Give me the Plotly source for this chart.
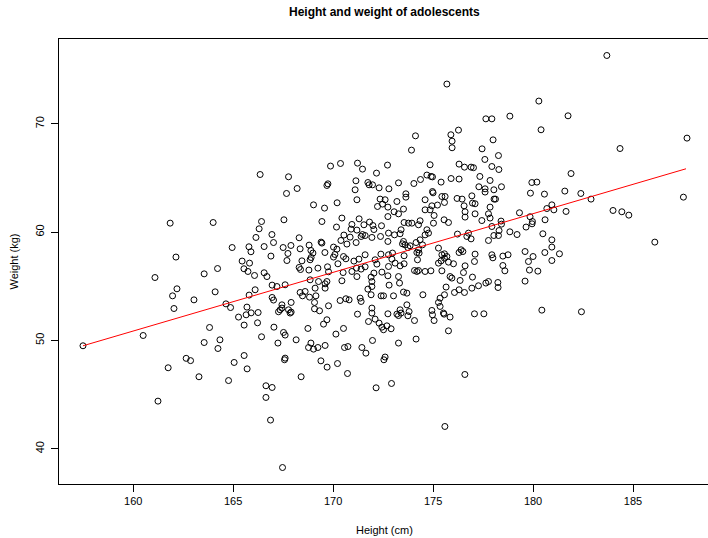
import plotly.graph_objects as go

# Heights (cm) and weights (kg)
height_cm = [
    166.35, 175.69, 177.64, 177.94, 176.27, 175.89, 174.12, 175.95, 175.95, 173.92,
    177.45, 177.59, 177.94, 169.87, 170.37, 171.22, 171.47, 172.72, 172.17, 174.85,
    176.30, 176.57, 176.90, 177.02, 167.77, 168.20, 167.67, 169.69, 169.74, 171.14,
    171.10, 171.74, 171.80, 171.97, 172.30, 172.79, 173.27, 174.04, 174.37, 174.69,
    174.90, 174.97, 175.40, 175.90, 176.30, 177.34, 177.85, 177.29, 177.60, 177.60,
    174.97, 175.00, 173.64, 173.64, 175.44, 175.60, 176.20, 176.45, 176.94, 172.35,
    172.60, 171.19, 174.60,
    183.69, 180.29, 178.84, 181.75, 180.40, 178.00, 187.70, 184.35, 178.27, 178.29,
    181.90, 179.94, 180.19, 178.42, 178.04, 179.87, 180.57, 181.59, 182.39, 182.90,
    187.52, 178.05, 178.12,
    177.85, 177.85, 177.94, 179.32, 179.85, 180.60, 180.69, 180.94, 181.04, 181.65,
    184.00, 184.44, 184.79, 178.40, 178.42, 178.30, 179.97, 179.95, 179.65, 178.84,
    179.20, 178.04, 178.27, 180.49, 180.94, 180.94, 180.59, 181.32, 179.60, 186.09,
    177.94, 177.99, 178.49, 178.75, 180.00, 179.77, 180.94, 178.49, 178.59, 179.82,
    180.24, 178.24, 178.25, 179.60, 180.44, 182.42,
    161.85, 164.00, 166.42, 166.30, 166.14, 166.94, 167.02, 166.55, 164.95, 165.79,
    165.89, 166.89, 162.14, 165.45, 165.82, 165.54, 165.74, 164.22, 163.55, 166.55,
    166.69, 166.07, 161.09, 166.95, 166.10, 162.19, 161.97, 164.10, 165.80, 166.95,
    167.02, 163.04, 164.64, 164.87, 162.04, 165.69, 165.90, 166.25, 165.65, 165.27,
    166.22, 165.55, 167.04, 163.82, 160.50, 157.49, 166.42, 164.34, 163.55, 164.24,
    165.55, 162.65, 162.87,
    161.75, 163.29, 161.24, 164.77, 165.05, 165.70, 166.64, 166.95, 166.64, 166.87,
    167.57, 169.39, 169.70, 170.22, 168.40, 170.72, 172.15, 172.92, 176.59, 175.59,
    167.47, 172.54,
    169.02, 169.57, 170.20, 172.22, 172.47, 167.54, 169.44, 170.44, 171.30, 170.17,
    170.94, 170.90, 171.54, 171.82, 171.99, 172.04, 172.42, 171.47, 171.60, 171.40,
    171.19, 170.54, 170.85, 172.37, 171.94, 168.30, 167.89, 167.50, 168.35, 168.80,
    169.40, 169.44, 170.39, 170.69, 171.15, 170.02, 170.19, 168.89, 168.99, 169.59,
    167.74, 170.09, 170.02, 170.52, 170.64, 171.60, 172.39, 167.69, 168.44, 168.85,
    168.90, 170.24, 171.04, 171.29, 172.10, 172.19, 168.30, 168.37, 168.79, 169.24,
    169.72, 169.77, 170.50, 170.94, 171.17, 171.40, 171.60, 171.90, 172.04, 172.44,
    171.19,
    172.74, 172.74, 173.19, 173.05, 173.27, 173.52, 174.94, 175.22, 174.60, 174.85,
    175.57, 175.05, 176.55, 176.60, 176.60, 176.97, 177.10, 177.10, 177.44, 177.77,
    175.55, 175.77, 173.55, 173.77, 173.94, 174.27, 174.35, 175.02, 174.69, 174.77,
    174.60, 172.77, 173.07, 173.35, 173.40, 172.74, 173.52, 173.47, 173.60, 173.85,
    173.74, 174.15, 174.35, 174.47, 176.22, 176.77, 176.69, 176.90, 177.77, 175.27,
    174.27, 174.19, 174.30, 176.40, 176.49, 176.30, 172.77, 172.97, 172.94, 173.55,
    174.22, 175.44, 175.57, 175.69, 175.57, 175.27, 175.40, 175.77, 176.02, 177.10,
    177.07, 176.60, 173.10, 173.35, 173.55, 172.77, 172.74, 173.27, 174.07, 174.19,
    174.27, 174.60, 174.89, 175.44, 175.85, 175.94, 176.52, 176.97,
    167.19, 167.60, 168.85, 169.27, 169.60, 169.69, 170.44, 168.35, 168.60, 168.47,
    168.82, 169.10, 169.60, 169.14, 167.44, 167.90, 169.07, 169.77, 167.35, 167.27,
    167.44, 167.77, 167.85, 167.90, 169.07, 169.32, 170.35, 170.64, 170.80, 171.35,
    171.40, 171.74, 171.94, 171.94, 171.90, 172.40, 172.52, 171.22, 171.94, 171.94,
    171.77, 172.10, 172.30, 172.44, 172.52, 169.69, 169.52, 168.74, 170.52, 170.14,
    167.52, 167.60, 168.15, 167.24, 171.97, 168.89, 168.77, 169.02, 169.24, 169.60,
    170.57, 170.74, 171.44, 171.64, 167.60,
    172.80, 173.32, 173.52, 173.69, 173.02, 174.49, 175.65, 175.57, 176.07, 176.30,
    176.57, 176.94, 177.27, 177.64, 177.77, 176.35, 175.35, 175.27, 175.35, 173.69,
    173.35, 173.19, 173.27, 173.40, 173.80, 172.74, 173.74, 174.07, 174.94, 174.97,
    175.05, 175.52, 175.55, 175.85, 177.07, 177.54, 172.69, 172.90, 175.77, 173.27,
    174.15, 172.60,
]

weight_kg = [
    65.32, 73.67, 70.46, 70.46, 69.42, 68.99, 68.89, 68.40, 67.79, 67.57,
    67.69, 66.71, 66.06, 66.10, 66.34, 66.37, 65.82, 66.19, 65.45, 66.22,
    66.28, 66.00, 66.00, 65.95, 65.11, 64.03, 63.57, 64.31, 64.46, 64.74,
    63.91, 64.58, 64.37, 64.37, 64.09, 64.00, 64.55, 64.49, 64.86, 65.27,
    65.14, 65.10, 64.62, 64.95, 64.90, 65.14, 64.77, 64.19, 64.00, 63.70,
    63.75, 63.63, 63.54, 63.23, 63.29, 63.29, 63.11, 63.05, 63.35, 63.05,
    62.99, 62.99, 62.99,
    76.31, 72.10, 70.71, 70.74, 69.45, 68.52, 68.68, 67.72, 67.07, 65.78,
    65.41, 64.58, 64.62, 64.19, 63.91, 63.60, 63.51, 63.79, 63.57, 63.05,
    63.23, 63.05, 63.05,
    62.31, 61.30, 60.52, 61.79, 61.42, 61.14, 62.18, 62.52, 62.06, 61.91,
    62.00, 61.88, 61.57, 61.02, 60.74, 60.15, 60.98, 60.77, 60.47, 60.03,
    59.78, 59.69, 59.69, 59.85, 59.29, 58.62, 58.12, 58.00, 58.21, 59.08,
    57.91, 57.63, 57.79, 57.91, 57.75, 57.29, 57.38, 56.92, 56.43, 56.50,
    56.40, 55.35, 54.89, 55.48, 52.80, 52.65,
    60.83, 60.89, 60.98, 60.31, 59.51, 59.78, 59.04, 58.67, 58.58, 58.65,
    58.19, 57.79, 57.70, 57.33, 57.14, 56.62, 56.37, 56.64, 56.15, 56.25,
    55.90, 56.00, 55.81, 55.11, 54.68, 54.77, 54.12, 54.49, 54.19, 53.97,
    53.73, 53.75, 53.38, 53.04, 52.95, 53.08, 52.55, 52.58, 52.37, 52.16,
    51.63, 51.42, 51.23, 51.20, 50.46, 49.51, 50.34, 50.06, 49.81, 49.26,
    48.61, 48.35, 48.14,
    47.48, 46.65, 44.40, 46.30, 47.97, 47.38, 45.82, 45.66, 44.74, 42.65,
    48.22, 48.12, 47.54, 47.87, 46.65, 46.95, 45.63, 46.03, 46.86, 42.06,
    38.27, 48.22,
    62.52, 62.22, 62.71, 62.37, 62.59, 61.14, 60.98, 61.30, 61.23, 60.47,
    60.71, 60.28, 60.68, 60.93, 60.61, 60.24, 60.59, 59.78, 59.69, 59.60,
    60.19, 59.73, 59.54, 59.60, 59.51, 59.48, 58.77, 58.58, 58.46, 58.80,
    59.08, 58.99, 59.23, 58.90, 59.04, 58.62, 58.43, 58.31, 58.07, 58.12,
    58.03, 57.94, 57.70, 57.75, 57.54, 57.91, 57.97, 57.38, 57.35, 57.45,
    57.66, 57.08, 57.33, 57.51, 57.45, 57.05, 56.74, 56.55, 56.50, 56.68,
    56.80, 56.34, 56.27, 56.37, 56.68, 56.59, 56.80, 55.85, 56.22, 56.31,
    55.90,
    62.31, 61.44, 62.83, 61.88, 61.69, 62.13, 62.43, 62.50, 62.06, 62.06,
    62.74, 61.54, 62.43, 61.88, 61.39, 62.68, 62.62, 61.69, 61.07, 61.69,
    61.14, 60.89, 60.89, 60.83, 60.83, 60.68, 61.05, 60.83, 60.22, 59.91,
    59.75, 59.91, 59.75, 59.85, 60.22, 59.14, 59.14, 58.92, 58.83, 58.74,
    58.58, 59.04, 59.29, 58.83, 59.82, 59.91, 59.60, 59.38, 59.23, 58.53,
    58.37, 58.12, 58.07, 58.37, 58.21, 58.12, 57.91, 58.07, 57.51, 57.82,
    57.45, 57.91, 58.00, 57.75, 57.60, 57.14, 57.35, 57.23, 57.08, 57.97,
    57.29, 56.89, 57.14, 56.89, 57.08, 56.83, 55.97, 55.90, 56.46, 56.37,
    56.46, 56.37, 56.43, 56.43, 55.90, 55.76, 56.27, 55.85,
    54.98, 55.14, 55.60, 55.44, 55.23, 55.44, 55.51, 54.43, 54.52, 54.12,
    54.00, 54.83, 54.83, 54.12, 53.29, 53.51, 53.51, 53.20, 52.83, 52.65,
    52.99, 52.83, 52.53, 52.62, 52.92, 52.74, 53.69, 53.85, 53.75, 53.91,
    53.60, 54.74, 54.98, 55.44, 54.22, 54.12, 54.12, 52.43, 52.99, 52.53,
    51.75, 51.97, 51.60, 51.23, 50.99, 51.91, 51.51, 51.11, 51.11, 50.59,
    50.74, 50.50, 50.06, 49.76, 50.00, 49.76, 49.35, 49.20, 49.35, 49.54,
    49.35, 49.44, 49.35, 48.83, 48.37,
    55.11, 55.30, 54.47, 54.37, 54.12, 54.22, 54.93, 54.22, 54.43, 54.68,
    54.43, 54.83, 55.05, 55.30, 55.44, 55.54, 53.91, 53.51, 53.14, 53.29,
    52.83, 52.43, 52.30, 52.53, 52.67, 52.46, 52.28, 51.84, 52.77, 52.37,
    51.84, 52.53, 52.43, 52.16, 52.46, 52.46, 51.35, 51.08, 50.89, 49.76,
    50.13, 48.47,
]

# Fitted regression line endpoints
fit_height = [157.49, 187.65]
fit_weight = [49.51, 65.85]

x_ticks = [160, 165, 170, 175, 180, 185]
y_ticks = [40, 50, 60, 70]

n = min(len(height_cm), len(weight_kg))

FONT = "Liberation Sans, Arial, Helvetica, sans-serif"

fig = go.Figure()
fig.add_trace(go.Scatter(
    x=height_cm[:n], y=weight_kg[:n], mode="markers",
    marker=dict(symbol="circle-open", size=6, color="black",
                line=dict(width=1, color="black")),
    hoverinfo="x+y", showlegend=False,
))
fig.add_trace(go.Scatter(
    x=fit_height, y=fit_weight, mode="lines",
    line=dict(color="red", width=1), showlegend=False,
))

axis_common = dict(
    showgrid=False, zeroline=False, showline=True, mirror=True,
    linecolor="black", linewidth=1, ticks="outside", ticklen=7,
    tickwidth=1, tickcolor="black",
    tickfont=dict(family=FONT, size=11, color="black"),
)

# plot area: x 59..708 px, y 39..484 px
fig.update_layout(
    width=708, height=538,
    margin=dict(l=59, r=0, t=39, b=54, pad=0),
    paper_bgcolor="white", plot_bgcolor="white",
    xaxis=dict(range=[156.29, 188.75], tickvals=x_ticks, **axis_common),
    yaxis=dict(range=[36.75, 77.83], tickvals=y_ticks, tickangle=-90,
               ticklabelstandoff=3, **axis_common),
    annotations=[
        dict(text="<b>Height and weight of adolescents</b>", xref="paper",
             yref="paper", x=(384 - 59) / 649, y=(484 - 12) / 445,
             xanchor="center", yanchor="middle", showarrow=False,
             font=dict(family=FONT, size=12, color="black")),
        dict(text="Height (cm)", xref="paper", yref="paper",
             x=(384 - 59) / 649, y=(484 - 530) / 445,
             xanchor="center", yanchor="middle", showarrow=False,
             font=dict(family=FONT, size=11, color="black")),
        dict(text="Weight (kg)", xref="paper", yref="paper",
             x=(13 - 59) / 649, y=0.5, textangle=-90,
             xanchor="center", yanchor="middle", showarrow=False,
             font=dict(family=FONT, size=11, color="black")),
    ],
)

fig.write_html(
    "out.html",
    config={"displayModeBar": False},
    post_script="document.body.style.margin='0';"
                "document.body.style.overflow='hidden';",
)
